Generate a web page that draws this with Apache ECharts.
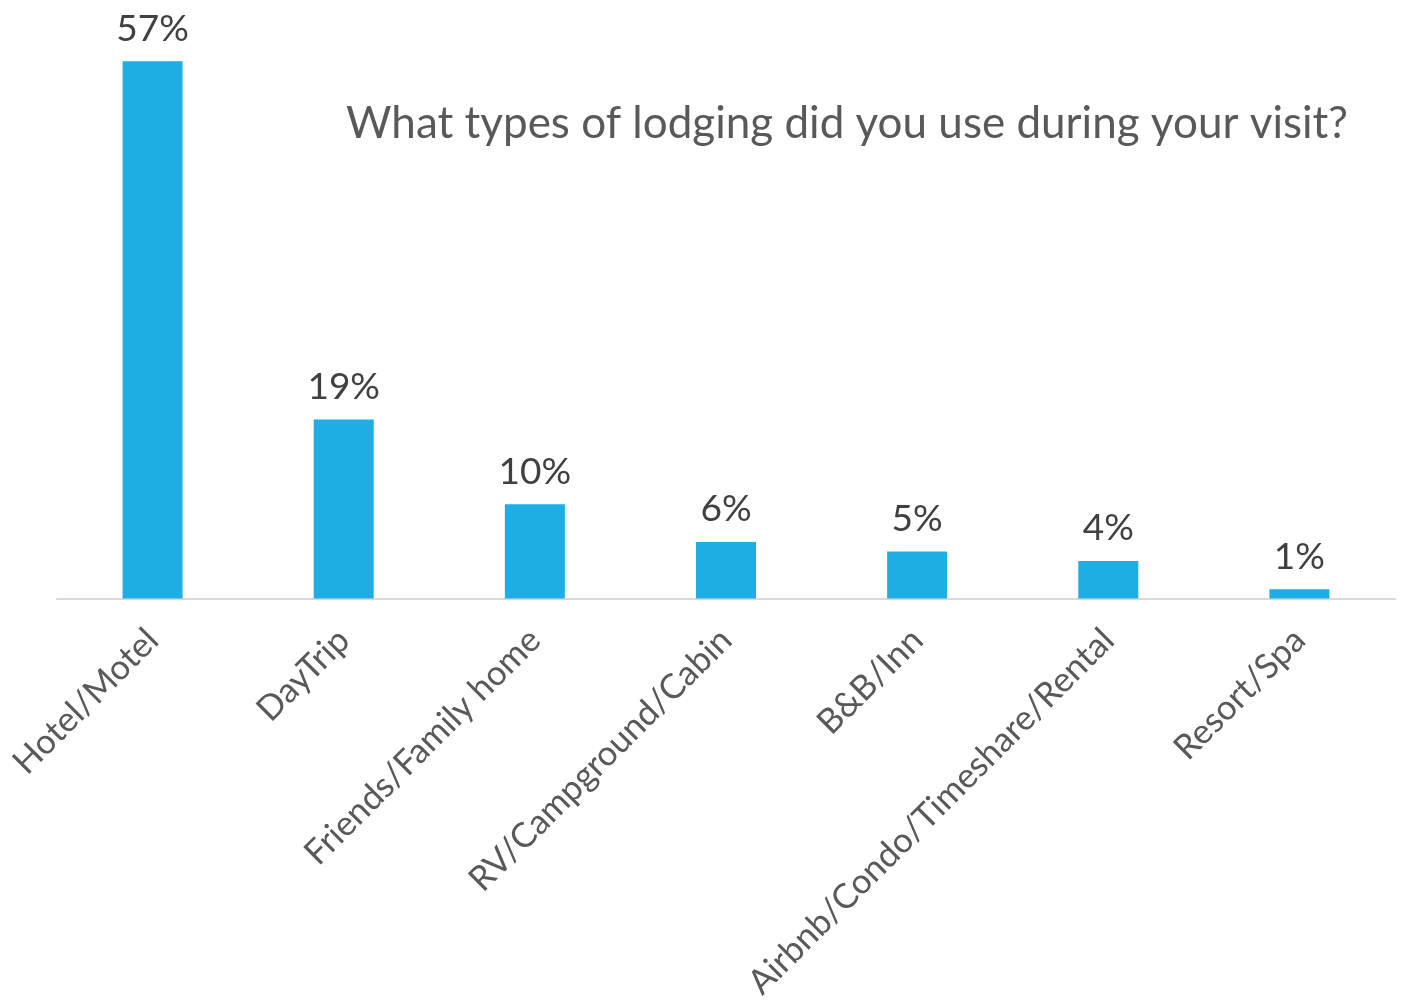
<!DOCTYPE html>
<html>
<head>
<meta charset="utf-8">
<script src="https://cdn.jsdelivr.net/npm/echarts@6/dist/echarts.min.js"></script>
<style>
  html, body { margin: 0; padding: 0; background: #ffffff; }
  #chart { width: 1402px; height: 1003px; }
</style>
</head>
<body>
<div id="chart"></div>
<script>
// Lodging types and share of respondents (%)
const categories = [
  'Hotel/Motel',
  'DayTrip',
  'Friends/Family home',
  'RV/Campground/Cabin',
  'B&B/Inn',
  'Airbnb/Condo/Timeshare/Rental',
  'Resort/Spa'
];
const shares = [57, 19, 10, 6, 5, 4, 1];
const titleText = 'What types of lodging did you use during your visit?';

const chart = echarts.init(document.getElementById('chart'));
chart.setOption({
  backgroundColor: '#ffffff',
  animation: false,
  title: {
    text: titleText,
    left: 341,
    top: 97,
    textStyle: {
      fontFamily: 'Lato',
      fontWeight: 'normal',
      fontSize: 44,
      color: '#595959'
    }
  },
  grid: {
    left: 57,
    right: 7,
    top: 33,
    bottom: 403,
    containLabel: false
  },
  xAxis: {
    type: 'category',
    data: categories,
    axisLine: { lineStyle: { color: '#D9D9D9', width: 2 } },
    axisTick: { show: false },
    axisLabel: {
      interval: 0,
      rotate: 45,
      margin: 36,
      fontFamily: 'Lato',
      fontSize: 34.5,
      color: '#595959'
    }
  },
  yAxis: {
    type: 'value',
    min: 0,
    max: 60,
    show: false,
    splitLine: { show: false }
  },
  series: [{
    type: 'bar',
    data: shares,
    barWidth: 60,
    itemStyle: { color: '#1EAEE4' },
    label: {
      show: true,
      position: 'top',
      distance: 14,
      formatter: '{c}%',
      fontFamily: 'Lato',
      fontSize: 37,
      color: '#404040'
    }
  }]
});
</script>
</body>
</html>
